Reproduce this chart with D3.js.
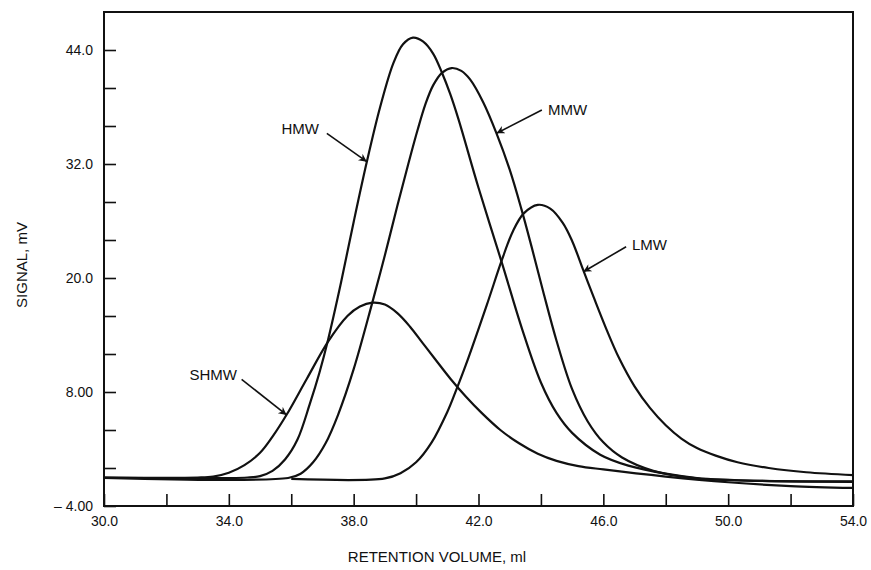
<!DOCTYPE html>
<html>
<head>
<meta charset="utf-8">
<script src="https://cdn.jsdelivr.net/npm/d3@7"></script>
<style>
  body { margin: 0; background: #fff; }
  svg text { font-family: "Liberation Sans", Arial, sans-serif; fill: #111; }
</style>
</head>
<body>
<div id="chart"></div>
<script>
// curves (retention volume in ml, signal in mV)
var shmwVol = [30, 33.0, 33.5, 34.0, 34.5, 35.0, 35.4, 35.85, 36.5, 37.18, 37.8, 38.2, 38.6, 39.0, 39.4, 39.8, 40.2, 40.6, 41.1, 41.6, 42.1, 42.7, 43.3, 43.9, 44.5, 45.2, 46.0, 48.0, 50.0, 52.0, 54.0];
var shmwSig = [-1.0, -1.0, -0.9, -0.5, 0.3, 1.6, 3.3, 5.6, 9.4, 13.3, 16.0, 17.0, 17.4, 17.2, 16.3, 14.9, 13.2, 11.5, 9.4, 7.5, 5.8, 4.0, 2.6, 1.5, 0.75, 0.2, -0.15, -0.9, -1.5, -1.9, -2.1];

var hmwVol = [30, 34.6, 35.0, 35.4, 35.8, 36.2, 36.6, 36.9, 37.18, 37.6, 38.0, 38.42, 38.84, 39.27, 39.58, 39.9, 40.22, 40.55, 40.83, 41.09, 41.35, 42.0, 42.75, 43.4, 44.0, 44.5, 45.0, 45.9, 46.8, 48.0, 49.0, 51.0, 54.0];
var hmwSig = [-1.0, -1.0, -0.85, -0.3, 0.9, 3.0, 6.8, 10.0, 13.5, 19.6, 25.9, 32.2, 37.9, 42.6, 44.6, 45.3, 44.9, 43.6, 41.6, 39.4, 36.8, 29.5, 21.6, 14.6, 9.0, 5.8, 3.7, 1.4, 0.25, -0.6, -1.05, -1.35, -1.45];

var mmwVol = [30, 35.9, 36.3, 36.7, 37.1, 37.5, 38.0, 38.58, 39.0, 39.4, 39.75, 40.05, 40.3, 40.55, 40.83, 41.14, 41.45, 41.73, 42.15, 42.58, 43.0, 43.38, 43.7, 44.07, 44.5, 45.0, 45.5, 46.0, 46.6, 47.6, 49.0, 51.0, 54.0];
var mmwSig = [-1.05, -1.05, -0.6, 0.6, 2.6, 5.6, 10.4, 17.2, 22.4, 27.6, 32.0, 35.6, 38.3, 40.3, 41.6, 42.1, 41.8, 40.9, 38.5, 35.2, 31.4, 27.2, 23.3, 18.6, 13.4, 8.3, 4.9, 2.7, 1.1, -0.3, -1.1, -1.35, -1.4];

var lmwVol = [36.0, 39.0, 39.5, 40.0, 40.5, 41.0, 41.25, 41.6, 42.27, 42.75, 43.1, 43.45, 43.9, 44.3, 44.7, 45.0, 45.36, 45.7, 46.1, 46.5, 47.0, 47.5, 48.0, 48.5, 49.0, 49.6, 50.3, 51.3, 52.5, 54.0];
var lmwSig = [-1.15, -1.1, -0.55, 0.6, 2.7, 5.9, 7.9, 10.9, 17.2, 21.9, 24.9, 26.8, 27.7, 27.3, 25.8, 23.9, 20.8, 17.9, 14.6, 11.6, 8.6, 6.3, 4.5, 3.1, 2.1, 1.3, 0.6, 0.0, -0.45, -0.75];

var seriesNames = ["SHMW", "HMW", "MMW", "LMW"];

// axis ticks and their printed labels
var xTicks = [30, 32, 34, 36, 38, 40, 42, 44, 46, 48, 50, 52, 54];
var xLabels = ["30.0", "", "34.0", "", "38.0", "", "42.0", "", "46.0", "", "50.0", "", "54.0"];
var yTicks = [-4, 0, 4, 8, 12, 16, 20, 24, 28, 32, 36, 40, 44];
var yLabels = ["\u2013 4.00", "", "", "8.00", "", "", "20.0", "", "", "32.0", "", "", "44.0"];

// label text position (tx, ty) and arrow from (x1, y1) to tip (x2, y2), in data units
var labelNames = ["HMW", "MMW", "LMW", "SHMW"];
var labelAnchor = ["end", "start", "start", "end"];
var labelTx = [36.89, 44.23, 46.92, 34.26];
var labelTy = [35.16, 37.16, 22.95, 9.26];
var arrowX1 = [37.14, 44.03, 46.73, 34.41];
var arrowY1 = [35.23, 37.68, 23.29, 9.34];
var arrowX2 = [38.42, 42.58, 45.36, 35.85];
var arrowY2 = [32.24, 35.23, 20.66, 5.58];

var width = 871, height = 570;
var margin = {top: 12, right: 18, bottom: 64, left: 104};

var svg = d3.select("#chart")
  .append("svg")
    .attr("width", width)
    .attr("height", height);

var x = d3.scaleLinear().domain([30, 54]).range([margin.left, width - margin.right]);
var y = d3.scaleLinear().domain([-4, 48]).range([height - margin.bottom, margin.top]);

svg.append("defs").append("marker")
    .attr("id", "head")
    .attr("viewBox", "0 0 10 10")
    .attr("refX", 10).attr("refY", 5)
    .attr("markerWidth", 10).attr("markerHeight", 8)
    .attr("markerUnits", "userSpaceOnUse")
    .attr("orient", "auto")
  .append("path")
    .attr("d", "M0,0 L10,5 L0,10 L3,5 Z")
    .attr("fill", "#111");

// ticks pointing inwards
var xAxis = d3.axisBottom(x)
    .tickValues(xTicks)
    .tickSize(-12)
    .tickPadding(10)
    .tickFormat(function(d, i) { return xLabels[i]; });

var yAxis = d3.axisLeft(y)
    .tickValues(yTicks)
    .tickSize(-12)
    .tickPadding(11)
    .tickFormat(function(d, i) { return yLabels[i]; });

var gx = svg.append("g")
    .attr("transform", "translate(0," + y(-4) + ")")
    .call(xAxis);
var gy = svg.append("g")
    .attr("transform", "translate(" + x(30) + ",0)")
    .call(yAxis);

[gx, gy].forEach(function(g) {
  g.select(".domain").remove();
  g.selectAll(".tick line").attr("stroke", "#111").attr("stroke-width", 1.6);
  g.selectAll(".tick text").style("font-size", "14px").attr("fill", "#111");
});

// frame
svg.append("rect")
    .attr("x", x(30)).attr("y", y(48))
    .attr("width", x(54) - x(30)).attr("height", y(-4) - y(48))
    .attr("fill", "none")
    .attr("stroke", "#111")
    .attr("stroke-width", 2);

// the four curves
var line = d3.line()
    .x(function(d) { return x(d[0]); })
    .y(function(d) { return y(d[1]); })
    .curve(d3.curveCatmullRom.alpha(0.5));

var vols = [shmwVol, hmwVol, mmwVol, lmwVol];
var sigs = [shmwSig, hmwSig, mmwSig, lmwSig];

svg.selectAll(".curve")
    .data(seriesNames)
  .enter()
  .append("path")
    .attr("class", "curve")
    .attr("d", function(d, i) { return line(d3.zip(vols[i], sigs[i])); })
    .attr("fill", "none")
    .attr("stroke", "#111")
    .attr("stroke-width", 2.2);

// labels with arrows
svg.selectAll(".arrow")
    .data(labelNames)
  .enter()
  .append("line")
    .attr("class", "arrow")
    .attr("x1", function(d, i) { return x(arrowX1[i]); })
    .attr("y1", function(d, i) { return y(arrowY1[i]); })
    .attr("x2", function(d, i) { return x(arrowX2[i]); })
    .attr("y2", function(d, i) { return y(arrowY2[i]); })
    .attr("stroke", "#111")
    .attr("stroke-width", 1.6)
    .attr("marker-end", "url(#head)");

svg.selectAll(".lbl")
    .data(labelNames)
  .enter()
  .append("text")
    .attr("class", "lbl")
    .attr("x", function(d, i) { return x(labelTx[i]); })
    .attr("y", function(d, i) { return y(labelTy[i]); })
    .attr("text-anchor", function(d, i) { return labelAnchor[i]; })
    .style("font-size", "15px")
    .text(function(d) { return d; });

// axis titles
svg.append("text")
    .attr("x", 437).attr("y", 562)
    .attr("text-anchor", "middle")
    .style("font-size", "15px")
    .text("RETENTION VOLUME, ml");

svg.append("text")
    .attr("transform", "translate(27,265) rotate(-90)")
    .attr("text-anchor", "middle")
    .style("font-size", "15px")
    .text("SIGNAL, mV");
</script>
</body>
</html>
